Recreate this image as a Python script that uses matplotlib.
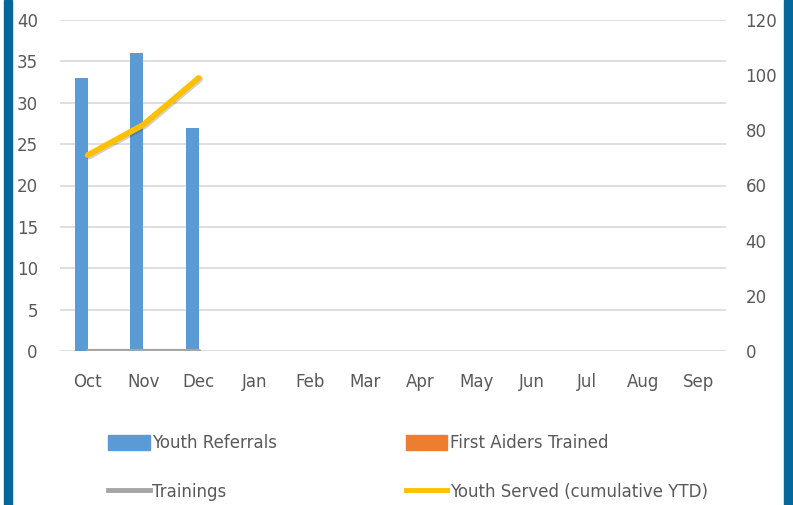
import matplotlib
matplotlib.use("Agg")
from matplotlib import pyplot as plt
from matplotlib.patches import Rectangle, Patch
from matplotlib.lines import Line2D
import matplotlib.patheffects as pe
import numpy as np

months = ['Oct', 'Nov', 'Dec', 'Jan', 'Feb', 'Mar', 'Apr', 'May', 'Jun', 'Jul', 'Aug', 'Sep']
youth_referrals = [33, 36, 27]
first_aiders = [0, 0, 0]
trainings = [0, 0, 0]
youth_served = [71, 82, 99]

plt.rcParams['font.family'] = ['DejaVu Sans']
plt.rcParams['font.size'] = 12
txt = '#595959'

fig = plt.figure(figsize=(7.93, 5.05), dpi=100)
ax = fig.add_axes([60/793, 154/505, 666/793, 331/505])
ax2 = ax.twinx()

x = np.arange(len(months))
n = len(youth_referrals)
w = 0.23
ax.bar(x[:n] - w/2, youth_referrals, w, color='#5B9BD5', zorder=3)
ax.bar(x[:n] + w/2, first_aiders, w, color='#ED7D31', zorder=3)
ax.plot(x[:n], trainings, color='#A5A5A5', lw=3, zorder=4, solid_capstyle='round')

ax2.plot(x[:n], youth_served, color='#FFC000', lw=4.2, solid_capstyle='round', zorder=5,
         path_effects=[pe.SimpleLineShadow(offset=(1, -1), alpha=0.18), pe.Normal()])

ax.set_xlim(-0.5, 11.5)
ax.set_ylim(0, 40)
ax.set_yticks(range(0, 41, 5))
ax2.set_ylim(0, 120)
ax2.set_yticks(range(0, 121, 20))
ax.set_xticks(x)
ax.set_xticklabels(months)
ax.grid(axis='y', color='#D9D9D9', lw=1.2, zorder=0)
ax.set_axisbelow(True)
for a in (ax, ax2):
    for s in a.spines.values():
        s.set_visible(False)
    a.tick_params(length=0, colors=txt, labelsize=12)
ax.tick_params(axis='y', pad=16)
ax.tick_params(axis='x', pad=16)
ax2.tick_params(axis='y', pad=14)

# legend filled column by column, so order gives rows: Referrals|First Aiders, Trainings|Youth Served
handles = [Patch(color='#5B9BD5'), Line2D([], [], color='#A5A5A5', lw=3.5),
           Patch(color='#ED7D31'), Line2D([], [], color='#FFC000', lw=3.5)]
labels = ['Youth Referrals', 'Trainings', 'First Aiders Trained', 'Youth Served (cumulative YTD)']
fig.legend(handles, labels, ncol=2, loc='upper left', bbox_to_anchor=(93/793, 1 - 419/505),
           frameon=False, handlelength=2.5, handleheight=1.0, handletextpad=0.15,
           columnspacing=7.7, labelspacing=1.85, fontsize=12, labelcolor=txt)

fig.patches.append(Rectangle((4/793, 0), 8/793, 1, transform=fig.transFigure, color='#06679B'))
fig.patches.append(Rectangle((784/793, 0), 9/793, 1, transform=fig.transFigure, color='#06679B'))

fig.savefig('out.png', dpi=100)
